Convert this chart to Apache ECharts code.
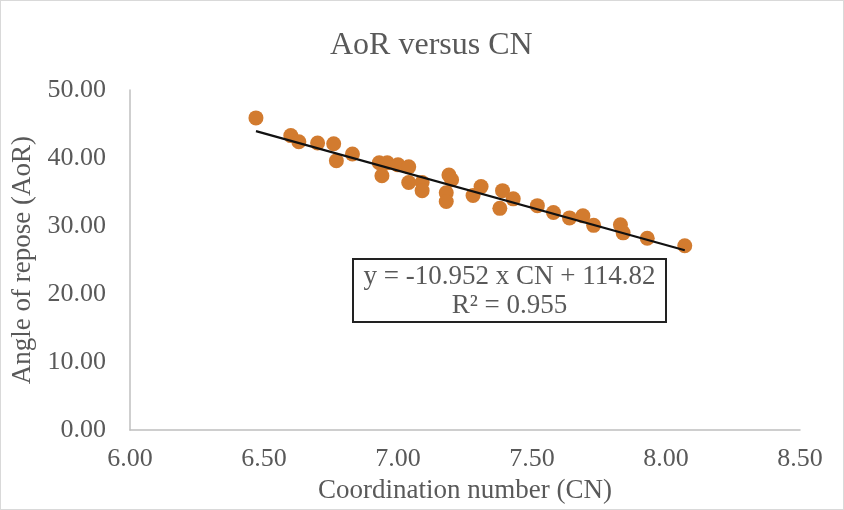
<!DOCTYPE html>
<html>
<head>
<meta charset="utf-8">
<script src="https://cdn.jsdelivr.net/npm/echarts@6/dist/echarts.min.js"></script>
<style>
  html, body { margin: 0; padding: 0; background: #fff; }
  #chart { width: 842px; height: 508px; border: 1px solid #d9d9d9; }
</style>
</head>
<body>
<div id="chart"></div>
<script>
// coordination number (x) and angle of repose (y)
const cn = [
  6.47, 6.60, 6.63, 6.70, 6.76, 6.77, 6.83, 6.93, 6.96, 6.94,
  7.00, 7.04, 7.04, 7.09, 7.09, 7.19, 7.20, 7.18, 7.18, 7.28,
  7.31, 7.38, 7.39, 7.43, 7.52, 7.58, 7.64, 7.69, 7.73, 7.83,
  7.84, 7.93, 8.07
];
const aor = [
  45.9, 43.3, 42.4, 42.2, 42.1, 39.6, 40.6, 39.3, 39.3, 37.4,
  39.0, 38.7, 36.4, 36.4, 35.2, 37.5, 36.8, 34.9, 33.6, 34.5,
  35.8, 32.6, 35.2, 34.0, 33.0, 32.0, 31.2, 31.5, 30.1, 30.2,
  29.0, 28.2, 27.1
];
const slope = -10.952;
const intercept = 114.82;
const xTicks = [6, 6.5, 7, 7.5, 8, 8.5];

const points = cn.map((x, i) => [x, aor[i]]);
const xMin = Math.min(...cn);
const xMax = Math.max(...cn);
const trend = [xMin, xMax].map(x => [x, slope * x + intercept]);

const font = '"Liberation Serif", "Times New Roman", serif';
const grey = '#595959';

const chart = echarts.init(document.getElementById('chart'));
chart.setOption({
  animation: false,
  title: {
    text: 'AoR versus CN',
    left: 324,
    top: 24,
    textStyle: { fontFamily: font, fontSize: 32, fontWeight: 'normal', color: grey }
  },
  grid: { left: 129, right: 43, top: 89, bottom: 78 },
  xAxis: {
    type: 'value',
    min: xTicks[0],
    max: xTicks[xTicks.length - 1],
    interval: 0.5,
    name: 'Coordination number (CN)',
    nameLocation: 'middle',
    nameGap: 46,
    nameTextStyle: { fontFamily: font, fontSize: 27, color: grey },
    axisLine: { lineStyle: { color: '#bfbfbf', width: 1.5 } },
    axisTick: { show: false },
    splitLine: { show: false },
    axisLabel: {
      margin: 16,
      fontFamily: font, fontSize: 26, color: grey,
      formatter: v => v.toFixed(2)
    }
  },
  yAxis: {
    type: 'value',
    min: 0,
    max: 50,
    interval: 10,
    name: 'Angle of repose (AoR)',
    nameLocation: 'middle',
    nameGap: 91,
    nameTextStyle: { fontFamily: font, fontSize: 27, color: grey },
    axisLine: { show: true, lineStyle: { color: '#bfbfbf', width: 1.5 } },
    axisTick: { show: false },
    splitLine: { show: false },
    axisLabel: {
      margin: 24,
      fontFamily: font, fontSize: 26, color: grey,
      formatter: v => v.toFixed(2)
    }
  },
  series: [
    {
      type: 'scatter',
      data: points,
      symbolSize: 15,
      itemStyle: { color: '#d27b2f', opacity: 1 },
      z: 2
    },
    {
      type: 'line',
      data: trend,
      symbol: 'none',
      lineStyle: { color: '#111', width: 2.2 },
      z: 3
    }
  ],
  graphic: [
    {
      type: 'rect',
      x: 352,
      y: 258,
      shape: { width: 313, height: 63 },
      style: { fill: '#fff', stroke: '#222', lineWidth: 2 },
      z: 10
    },
    {
      type: 'text',
      x: 508.5,
      y: 261,
      style: {
        text: 'y = -10.952 x CN + 114.82\nR² = 0.955',
        font: '27px ' + font,
        fill: grey,
        align: 'center',
        verticalAlign: 'top',
        lineHeight: 29
      },
      z: 11
    }
  ]
});
</script>
</body>
</html>
